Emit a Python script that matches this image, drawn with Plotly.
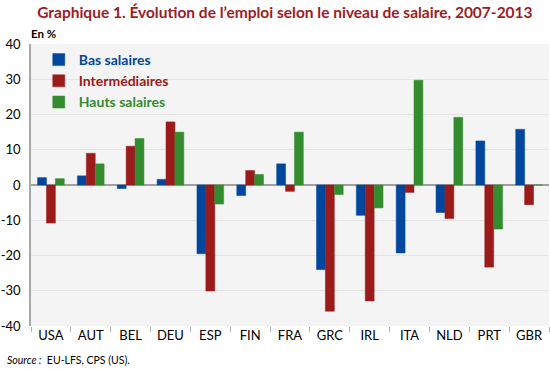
import plotly.graph_objects as go

countries = ["USA", "AUT", "BEL", "DEU", "ESP", "FIN", "FRA", "GRC", "IRL", "ITA", "NLD", "PRT", "GBR"]
bas = [2.1, 2.6, -1.0, 1.6, -19.5, -3.0, 6.0, -24.0, -8.6, -19.3, -7.8, 12.5, 15.8]
inter = [-10.8, 9.0, 11.0, 17.9, -30.1, 4.1, -1.8, -35.8, -32.9, -2.1, -9.5, -23.3, -5.6]
hauts = [1.8, 6.0, 13.2, 15.0, -5.4, 3.0, 15.0, -2.7, -6.5, 29.7, 19.2, -12.5, 0.0]
ytickvals = [40, 30, 20, 10, 0, -10, -20, -30, -40]
yticktext = ["40", "30", "20", "10", "0", "-10", "-20", "-30", "-40"]

c_blue = "#00479d"
c_red = "#9b1a1a"
c_green = "#338c2e"

font = "Lato"

fig = go.Figure()
for name, vals, col in [("Bas salaires", bas, c_blue), ("Intermédiaires", inter, c_red), ("Hauts salaires", hauts, c_green)]:
    fig.add_trace(go.Bar(
        x=countries, y=vals,
        name=f"<span style='color:{col}'><b>{name}</b></span>",
        marker=dict(color=col, line=dict(color=col, width=0.5)),
    ))

fig.update_layout(
    width=550, height=369,
    margin=dict(l=29, r=1, t=44, b=43),
    paper_bgcolor="white",
    plot_bgcolor="#f4f4f4",
    barmode="group",
    bargap=0.33,
    bargroupgap=0.0,
    font=dict(family=font, size=13, color="black"),
    showlegend=True,
    legend=dict(x=0.015, y=1.0, xanchor="left", yanchor="top",
                bgcolor="rgba(0,0,0,0)", font=dict(size=14, family=font),
                itemwidth=30, tracegroupgap=0, traceorder="normal"),
    title=dict(text="<b>Graphique 1. Évolution de l’emploi selon le niveau de salaire, 2007-2013</b>",
               x=0.518, xanchor="center", y=0.965, yanchor="middle",
               font=dict(size=15.5, color="#9e1b22", family=font)),
)
fig.update_xaxes(
    tickson="boundaries", ticks="outside", ticklen=5, tickcolor="#b0b0b0",
    showline=False, showgrid=False, tickfont=dict(size=13),
)
fig.update_yaxes(
    range=[-40, 40], tickvals=ytickvals, ticktext=yticktext,
    showgrid=True, gridcolor="#e3e3e3", gridwidth=1,
    zeroline=True, zerolinecolor="#a0a0a0", zerolinewidth=2,
    showline=True, linecolor="#a8a8a8", linewidth=1.5,
    ticks="", tickfont=dict(size=13), ticklabelstandoff=6,
)
fig.add_annotation(text="<b>En %</b>", xref="paper", yref="paper", x=-0.003, y=1.0,
                   xanchor="left", yanchor="bottom", yshift=2, showarrow=False, font=dict(size=11.5))
fig.add_annotation(text="<i>Source :</i>  EU-LFS, CPS (US).", xref="paper", yref="paper",
                   x=-0.05, y=0, xanchor="left", yanchor="top", yshift=-26,
                   showarrow=False, font=dict(size=10.5))

fig.write_html("out.html", config={"displayModeBar": False},
               post_script="document.body.style.margin='0px';")
